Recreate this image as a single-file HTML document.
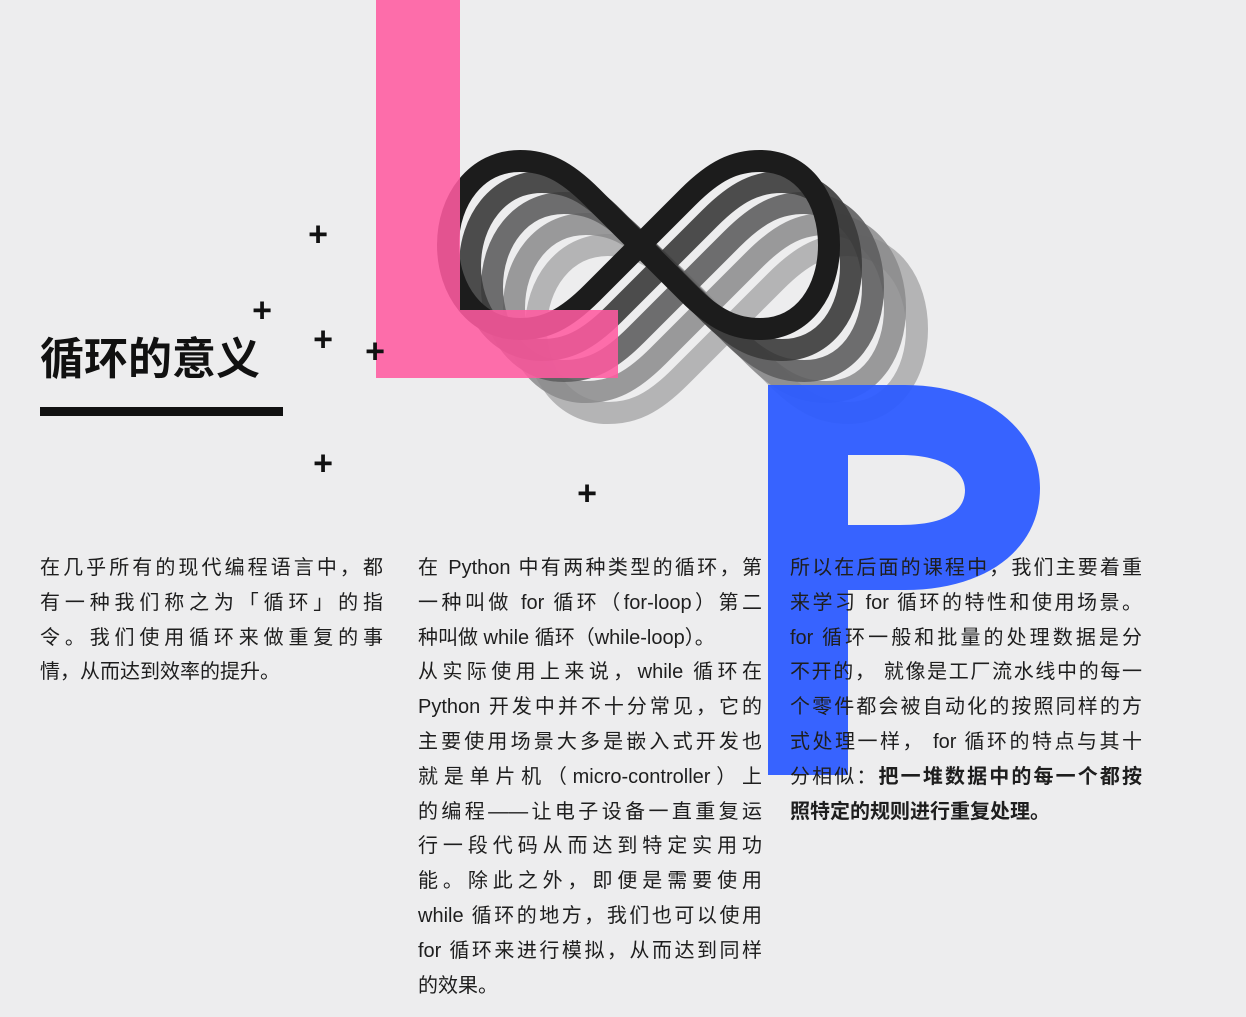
<!DOCTYPE html>
<html><head><meta charset="utf-8"><style>
body{margin:0;width:1246px;height:1017px;background:#ededee;position:relative;overflow:hidden;font-family:"Liberation Sans","Noto Sans CJK SC",sans-serif;color:#1e1e1e}
.col{position:absolute;top:551px;font-size:20px;line-height:34.8px}
.col div{text-align:justify;text-align-last:justify;white-space:nowrap}
.col div.l{text-align-last:left}
.plus{position:absolute;font-size:34px;font-weight:bold;line-height:1;transform:translate(-50%,-52%);color:#111}
</style></head><body>
<svg width="1246" height="1017" style="position:absolute;left:0;top:0">
<defs><path id="inf" d="M640 245 L592 197 C565 170 545 161 520 161 C476 161 448 200 448 245 C448 290 476 329 520 329 C545 329 565 320 592 293 L688 197 C715 170 735 161 760 161 C804 161 829 200 829 245 C829 290 804 329 760 329 C735 329 715 320 688 293 Z"/></defs>
<g fill="none" stroke-width="22">
<use href="#inf" transform="translate(88,84)" stroke="#a9a9aa" opacity="0.85"/>
<use href="#inf" transform="translate(66,63)" stroke="#8a8a8b" opacity="0.85"/>
<use href="#inf" transform="translate(44,42)" stroke="#5e5e5f" opacity="0.9"/>
<use href="#inf" transform="translate(22,21)" stroke="#3a3a3a" opacity="0.9"/>
<use href="#inf" stroke="#1c1c1c"/>
</g>
<path fill="#ff5ba0" opacity="0.88" d="M376 0 H460 V310 H618 V378 H376 Z"/>
<path fill="#2d5cff" opacity="0.95" fill-rule="evenodd" d="M768 385 H905 C985 385 1040 430 1040 488 C1040 550 985 590 905 590 H848 V775 H768 Z M848 455 H900 C942 455 965 470 965 490 C965 513 942 525 900 525 H848 Z"/>
</svg>
<div style="position:absolute;left:40px;top:331px;font-size:44px;font-weight:bold;line-height:58px;color:#111">循环的意义</div>
<div style="position:absolute;left:40px;top:407px;width:243px;height:9px;background:#111"></div>
<div class="plus" style="left:318px;top:235px">+</div>
<div class="plus" style="left:262px;top:311px">+</div>
<div class="plus" style="left:323px;top:340px">+</div>
<div class="plus" style="left:375px;top:352px">+</div>
<div class="plus" style="left:323px;top:464px">+</div>
<div class="plus" style="left:587px;top:494px">+</div>
<div class="col" style="left:40px;width:343px">
<div>在几乎所有的现代编程语言中，都</div>
<div>有一种我们称之为「循环」的指</div>
<div>令。我们使用循环来做重复的事</div>
<div class="l">情，从而达到效率的提升。</div>
</div>
<div class="col" style="left:418px;width:344px">
<div>在 Python 中有两种类型的循环，第</div>
<div>一种叫做 for 循环（for-loop）第二</div>
<div class="l">种叫做 while 循环（while-loop）。</div>
<div>从实际使用上来说，while 循环在</div>
<div>Python 开发中并不十分常见，它的</div>
<div>主要使用场景大多是嵌入式开发也</div>
<div>就是单片机（micro-controller）上</div>
<div>的编程——让电子设备一直重复运</div>
<div>行一段代码从而达到特定实用功</div>
<div>能。除此之外，即便是需要使用</div>
<div>while 循环的地方，我们也可以使用</div>
<div>for 循环来进行模拟，从而达到同样</div>
<div class="l">的效果。</div>
</div>
<div class="col" style="left:790px;width:352px">
<div>所以在后面的课程中，我们主要着重</div>
<div>来学习 for 循环的特性和使用场景。</div>
<div>for 循环一般和批量的处理数据是分</div>
<div>不开的， 就像是工厂流水线中的每一</div>
<div>个零件都会被自动化的按照同样的方</div>
<div>式处理一样， for 循环的特点与其十</div>
<div>分相似：<b>把一堆数据中的每一个都按</b></div>
<div class="l"><b>照特定的规则进行重复处理。</b></div>
</div>
</body></html>
